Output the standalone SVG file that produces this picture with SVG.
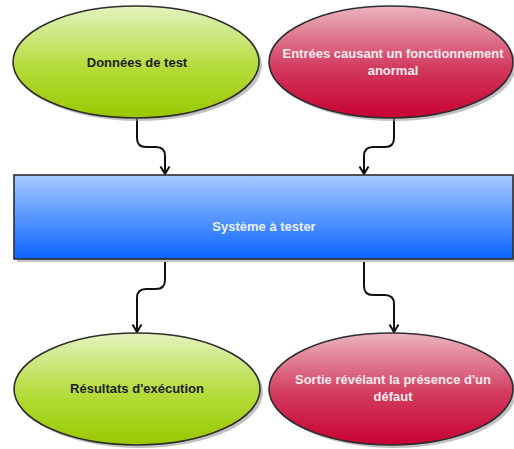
<svg xmlns="http://www.w3.org/2000/svg" width="514" height="449" viewBox="0 0 514 449">
  <defs>
    <linearGradient id="gGreen" x1="0" y1="0" x2="0" y2="1">
      <stop offset="0" stop-color="#e4f2bf"/>
      <stop offset="0.55" stop-color="#b4dc3a"/>
      <stop offset="1" stop-color="#99c800"/>
    </linearGradient>
    <linearGradient id="gRed" x1="0" y1="0" x2="0" y2="1">
      <stop offset="0" stop-color="#ecb4c0"/>
      <stop offset="0.55" stop-color="#d23a5e"/>
      <stop offset="1" stop-color="#c80032"/>
    </linearGradient>
    <linearGradient id="gBlue" x1="0" y1="0" x2="0" y2="1">
      <stop offset="0" stop-color="#a6caff"/>
      <stop offset="1" stop-color="#0a64ff"/>
    </linearGradient>
    <marker id="arrow" viewBox="0 0 12 12" refX="11" refY="6" markerWidth="12" markerHeight="12" markerUnits="userSpaceOnUse" orient="auto">
      <path d="M3.5,1.5 L11,6 L3.5,10.5" fill="none" stroke="#111" stroke-width="2"/>
    </marker>
    <style>
      .shadow { fill: #9a9a9a; opacity: 0.6; }
      .node { stroke: #2e2e2e; stroke-width: 1.6; }
      .label { font-family: "Liberation Sans", Arial, sans-serif; font-weight: bold; font-size: 13px; text-anchor: middle; }
      .dark { fill: #1e1e1e; }
      .light { fill: #fbecef; }
      .lightblue { fill: #eaf2ff; }
      .edge { fill: none; stroke: #111; stroke-width: 2; marker-end: url(#arrow); }
    </style>
  </defs>

  <rect width="514" height="449" fill="#ffffff"/>

  <!-- connectors -->
  <g id="edges">
    <path class="edge" d="M137,118 V138 Q137,147 146,147 H156 Q165,147 165,156 V174"/>
    <path class="edge" d="M394,118 V138 Q394,147 385,147 H373 Q364,147 364,156 V174"/>
    <path class="edge" d="M165,262 V280 Q165,289 156,289 H146 Q137,289 137,298 V332"/>
    <path class="edge" d="M364,262 V286 Q364,295 373,295 H385 Q394,295 394,304 V332"/>
  </g>

  <g id="node-donnees">
    <ellipse class="shadow" cx="139" cy="65" rx="123" ry="56"/>
    <ellipse class="node" cx="136" cy="62" rx="123" ry="56" fill="url(#gGreen)"/>
    <text class="label dark" x="137" y="67">Données de test</text>
  </g>

  <g id="node-entrees">
    <ellipse class="shadow" cx="394" cy="65" rx="122" ry="56"/>
    <ellipse class="node" cx="391" cy="62" rx="122" ry="56" fill="url(#gRed)"/>
    <text class="label light" x="393" y="58">Entrées causant un fonctionnement</text>
    <text class="label light" x="393" y="75">anormal</text>
  </g>

  <g id="node-systeme">
    <rect class="shadow" x="17" y="178" width="499" height="84"/>
    <rect class="node" x="14" y="175" width="499" height="84" fill="url(#gBlue)"/>
    <text class="label lightblue" x="264" y="231">Système à tester</text>
  </g>

  <g id="node-resultats">
    <ellipse class="shadow" cx="140" cy="392" rx="123" ry="56"/>
    <ellipse class="node" cx="137" cy="389" rx="123" ry="56" fill="url(#gGreen)"/>
    <text class="label dark" x="137" y="393">Résultats d'exécution</text>
  </g>

  <g id="node-sortie">
    <ellipse class="shadow" cx="394" cy="392" rx="122" ry="56"/>
    <ellipse class="node" cx="391" cy="389" rx="122" ry="56" fill="url(#gRed)"/>
    <text class="label light" x="393" y="384">Sortie révélant la présence d'un</text>
    <text class="label light" x="393" y="401">défaut</text>
  </g>
</svg>
